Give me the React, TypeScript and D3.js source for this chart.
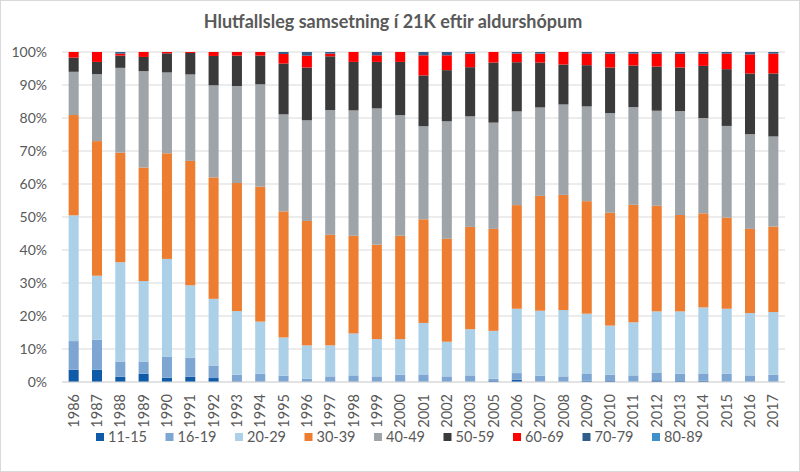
import * as d3 from "d3";
import React from "react";

// ár (2004 vantar í upprunalegu gögnunum)
const years = [
  "1986", "1987", "1988", "1989", "1990", "1991", "1992", "1993", "1994", "1995",
  "1996", "1997", "1998", "1999", "2000", "2001", "2002", "2003", "2005", "2006",
  "2007", "2008", "2009", "2010", "2011", "2012", "2013", "2014", "2015", "2016", "2017",
];

const groups = ["11-15", "16-19", "20-29", "30-39", "40-49", "50-59", "60-69", "70-79", "80-89"];

// % per year
const g11_15 = [3.7, 3.7, 1.6, 2.5, 1.3, 1.6, 1.2, 0.2, 0, 0, 0, 0, 0, 0, 0, 0, 0, 0, 0.3, 0.7, 0, 0, 0.4, 0.3, 0, 0.5, 0.3, 0.4, 0, 0, 0];
const g16_19 = [8.7, 9.1, 4.6, 3.7, 6.3, 5.8, 3.8, 2.0, 2.5, 1.9, 1.0, 1.7, 2.0, 1.7, 2.2, 2.3, 1.7, 2.0, 0.7, 2.0, 1.9, 1.7, 2.2, 1.9, 2.0, 2.4, 2.2, 2.2, 2.5, 2.0, 2.2];
const g20_29 = [38.1, 19.4, 30.1, 24.4, 29.7, 21.9, 20.2, 19.3, 15.8, 11.6, 10.1, 9.4, 12.7, 11.3, 10.8, 15.6, 10.5, 14.0, 14.5, 19.5, 19.7, 20.1, 18.1, 14.9, 16.1, 18.5, 18.9, 20.0, 19.7, 18.9, 19.0];
const g30_39 = [30.4, 40.8, 33.2, 34.4, 32.0, 37.7, 36.8, 38.8, 40.9, 38.2, 37.7, 33.5, 29.6, 28.6, 31.3, 31.4, 31.2, 31.0, 30.9, 31.4, 34.8, 34.9, 34.1, 34.2, 35.6, 32.0, 29.2, 28.5, 27.6, 25.5, 25.9];
const g40_49 = [13.1, 20.3, 25.7, 29.2, 24.5, 26.2, 27.9, 29.4, 31.0, 29.4, 30.5, 37.8, 38.0, 41.3, 36.6, 28.2, 35.6, 33.5, 32.2, 28.4, 26.8, 27.4, 28.7, 30.2, 29.6, 28.8, 31.5, 28.9, 27.8, 28.7, 27.3];
const g50_59 = [4.3, 3.7, 3.7, 4.3, 5.8, 6.5, 8.9, 9.2, 8.7, 15.4, 16.0, 16.3, 14.7, 14.1, 16.1, 15.4, 15.5, 14.9, 18.2, 14.9, 13.6, 12.1, 12.5, 13.8, 12.6, 13.4, 13.2, 15.8, 17.2, 18.4, 19.1];
const g60_69 = [1.7, 3.0, 0.6, 1.5, 0.4, 0.3, 1.2, 1.1, 1.1, 2.9, 3.6, 0.8, 3.0, 2.0, 3.0, 6.1, 4.5, 4.1, 3.2, 2.6, 2.7, 3.8, 3.5, 4.2, 3.6, 3.9, 4.2, 3.7, 4.7, 5.8, 6.0];
const g70_79 = [0, 0, 0.5, 0, 0, 0, 0, 0, 0, 0.6, 1.1, 0.5, 0, 1.0, 0, 1.0, 1.0, 0.5, 0, 0.5, 0.5, 0, 0.5, 0.5, 0.5, 0.5, 0.5, 0.5, 0.5, 0.7, 0.5];
const g80_89 = [0, 0, 0, 0, 0, 0, 0, 0, 0, 0, 0, 0, 0, 0, 0, 0, 0, 0, 0, 0, 0, 0, 0, 0, 0, 0, 0, 0, 0, 0, 0];

const series = [g11_15, g16_19, g20_29, g30_39, g40_49, g50_59, g60_69, g70_79, g80_89];
const colors = ["#0f5ba7", "#7ea6d3", "#abd0e7", "#ed7d31", "#9fa4a9", "#3a3a3b", "#ff0000", "#2e5e8c", "#3f8fca"];

const yTicks = [0, 0.1, 0.2, 0.3, 0.4, 0.5, 0.6, 0.7, 0.8, 0.9, 1];

const width = 800;
const height = 472;
const plot = { left: 62, right: 785, top: 52, bottom: 382 };
const font = "Lato, 'Open Sans', sans-serif";

export default function App() {
  // tafla fyrir d3.stack
  const rows = years.map((y, i) => {
    const r: any = { year: y };
    groups.forEach((g, k) => (r[g] = series[k][i]));
    return r;
  });
  // normalise each year to 100%
  const stacked = d3.stack().keys(groups).offset(d3.stackOffsetExpand)(rows);

  const x = d3.scaleBand().domain(years).range([plot.left, plot.right]).paddingInner(0.57).paddingOuter(0.285);
  const y = d3.scaleLinear().domain([0, 1]).range([plot.bottom, plot.top]);
  const pct = d3.format(".0%");

  const legendStep = 69.5;
  const legendX0 = 96;

  return (
    <svg width={width} height={height} style={{ position: "absolute", left: 0, top: 0, display: "block" }} fontFamily={font}>
      <rect x={0.5} y={0.5} width={width - 1} height={height - 1} fill="#fff" stroke="#d9d9d9" />
      <text x={393} y={28} textAnchor="middle" fontSize={18} fontWeight="bold" fill="#595959">
        Hlutfallsleg samsetning í 21K eftir aldurshópum
      </text>

      {/* gridlines + y axis */}
      {yTicks.map((t) => (
        <g key={t}>
          <line x1={plot.left} x2={plot.right} y1={y(t)} y2={y(t)} stroke="#d9d9d9" strokeWidth={1} />
          <text x={47} y={y(t)} dy="0.35em" textAnchor="end" fontSize={14} fill="#595959">
            {pct(t)}
          </text>
        </g>
      ))}

      {/* stacked bars */}
      {stacked.map((s, k) => (
        <g key={groups[k]} fill={colors[k]}>
          {s.map((d, i) => (
            <rect
              key={years[i]}
              x={x(years[i])}
              y={y(d[1])}
              width={x.bandwidth()}
              height={Math.max(0, y(d[0]) - y(d[1]))}
            />
          ))}
        </g>
      ))}

      <line x1={plot.left} x2={plot.right} y1={plot.bottom} y2={plot.bottom} stroke="#d9d9d9" />

      {/* x axis labels */}
      {years.map((yr) => {
        const cx = (x(yr) as number) + x.bandwidth() / 2;
        return (
          <text key={yr} transform={`translate(${cx},${plot.bottom + 12}) rotate(-90)`} dy="0.35em" textAnchor="end" fontSize={14.5} fill="#595959">
            {yr}
          </text>
        );
      })}

      {/* legend */}
      {groups.map((g, k) => (
        <g key={g} transform={`translate(${legendX0 + k * legendStep},437)`}>
          <rect x={0} y={-4} width={8} height={8} fill={colors[k]} />
          <text x={12} y={0} dy="0.35em" fontSize={14.5} fill="#595959">
            {g}
          </text>
        </g>
      ))}
    </svg>
  );
}
